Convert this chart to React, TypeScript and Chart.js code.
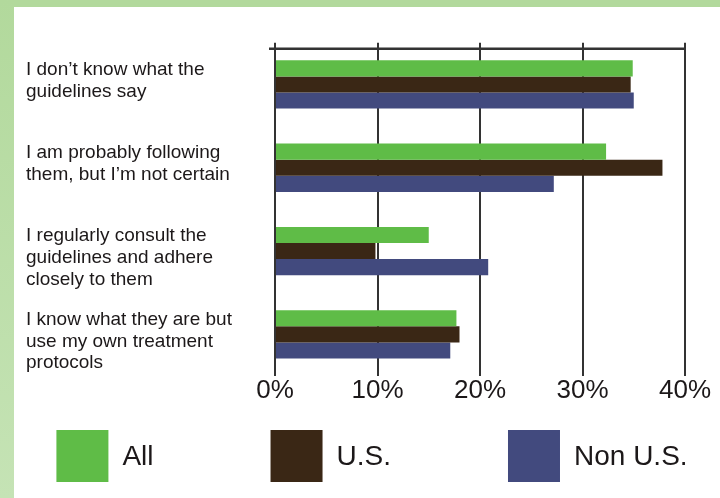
import React, { useEffect, useRef } from "react";
import { Chart, registerables } from "chart.js";

Chart.register(...registerables);

const categories: string[][] = [
  ["I don\u2019t know what the", "guidelines say"],
  ["I am probably following", "them, but I\u2019m not certain"],
  ["I regularly consult the", "guidelines and adhere", "closely to them"],
  ["I know what they are but", "use my own treatment", "protocols"],
];
const seriesNames = ["All", "U.S.", "Non U.S."];
const allValues = [34.9, 32.3, 15.0, 17.7];
const usValues = [34.7, 37.8, 9.8, 18.0];
const nonUsValues = [35.0, 27.2, 20.8, 17.1];
const tickValues = [0, 10, 20, 30, 40];

const colors = ["#5fbc47", "#3a2715", "#424a7e"];
const textColor = "#1c1819";
const FONT = "'Liberation Sans', Arial, Helvetica, sans-serif";

const topLinePlugin = {
  id: "topLine",
  beforeDatasetsDraw(chart: any) {
    const { ctx, chartArea, scales } = chart;
    const x = scales.x;
    const y = chartArea.top + 6;
    ctx.save();
    ctx.strokeStyle = "#333";
    ctx.lineWidth = 2.5;
    ctx.beginPath();
    ctx.moveTo(x.getPixelForValue(tickValues[0]) - 6, y);
    ctx.lineTo(x.getPixelForValue(tickValues[tickValues.length - 1]) + 1, y);
    ctx.stroke();
    ctx.restore();
  },
};

const legendPlugin = {
  id: "boxLegend",
  afterDraw(chart: any) {
    const { ctx, chartArea } = chart;
    const box = 52;
    const gap = 117;
    const fontSize = 28;
    ctx.save();
    ctx.font = `${fontSize}px ${FONT}`;
    const items = chart.data.datasets.map((d: any) => {
      const w = ctx.measureText(d.label).width;
      return { label: d.label, color: d.backgroundColor, width: box + fontSize / 2 + w };
    });
    const total = items.reduce((s: number, it: any) => s + it.width, 0) + gap * (items.length - 1);
    let x = chart.width / 2 + 5 - total / 2;
    const top = chartArea.bottom + 54;
    items.forEach((it: any) => {
      ctx.fillStyle = it.color;
      ctx.fillRect(x, top, box, box);
      ctx.fillStyle = textColor;
      ctx.textAlign = "left";
      ctx.textBaseline = "middle";
      ctx.fillText(it.label, x + box + fontSize / 2, top + box / 2 + 1);
      x += it.width + gap;
    });
    ctx.restore();
  },
};

export default function App() {
  const ref = useRef<HTMLCanvasElement | null>(null);

  useEffect(() => {
    if (!ref.current) return;
    const chart = new Chart(ref.current, {
      type: "bar",
      data: {
        labels: categories,
        datasets: [
          { label: seriesNames[0], data: allValues, backgroundColor: colors[0] },
          { label: seriesNames[1], data: usValues, backgroundColor: colors[1] },
          { label: seriesNames[2], data: nonUsValues, backgroundColor: colors[2] },
        ],
      },
      options: {
        indexAxis: "y",
        animation: false,
        responsive: false,
        datasets: {
          bar: { categoryPercentage: 0.58, barPercentage: 1.0 },
        },
        layout: { padding: { left: 12, right: 35, top: 32, bottom: 82 } },
        plugins: {
          legend: { display: false },
          tooltip: { enabled: false },
          title: { display: false },
        },
        scales: {
          x: {
            type: "linear",
            position: "bottom",
            min: 0,
            max: 40,
            afterBuildTicks: (scale: any) => {
              scale.ticks = tickValues.map((v) => ({ value: v }));
            },
            afterFit: (scale: any) => {
              scale.height = 40;
            },
            grid: { color: "#333", lineWidth: 2, drawTicks: false },
            border: { display: false },
            ticks: {
              padding: 2,
              color: textColor,
              font: { family: FONT, size: 26, lineHeight: 1 },
              callback: (v: any) => `${v}%`,
            },
          },
          y: {
            position: "left",
            grid: { display: false },
            border: { display: false },
            afterFit: (scale: any) => {
              scale.width = 249;
            },
            ticks: {
              crossAlign: "far",
              labelOffset: 7,
              color: textColor,
              font: { family: FONT, size: 19, lineHeight: 1.15 },
              callback: (_v: any, i: number) => {
                const lines = categories[i];
                return lines.length < 3 ? [...lines, ""] : lines;
              },
            },
          },
        },
      },
      plugins: [topLinePlugin, legendPlugin],
    });
    return () => chart.destroy();
  }, []);

  return (
    <div style={{ position: "fixed", inset: 0, background: "#ffffff", overflow: "hidden" }}>
      <div style={{ position: "absolute", left: 0, top: 0, width: "100%", height: 7, background: "#b2d99c" }} />
      <div
        style={{
          position: "absolute",
          left: 0,
          top: 0,
          width: 14,
          height: "100%",
          background: "linear-gradient(#b2d99c, #c5e3b5)",
        }}
      />
      <div style={{ position: "absolute", left: 14, top: 7, width: 706, height: 491 }}>
        <canvas ref={ref} width={706} height={491} style={{ display: "block" }} />
      </div>
    </div>
  );
}
